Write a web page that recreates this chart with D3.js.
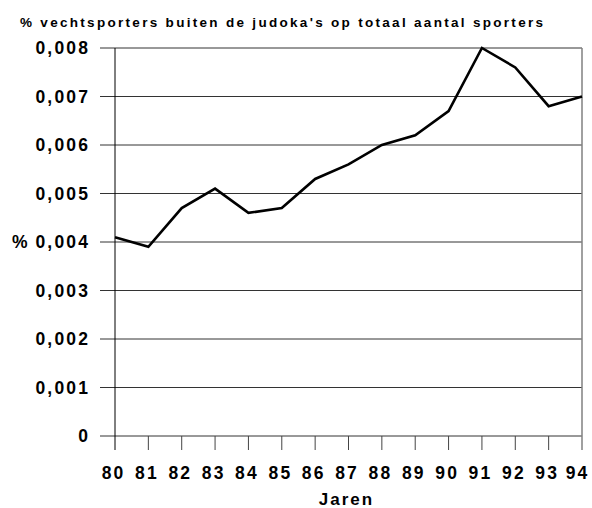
<!DOCTYPE html>
<html>
<head>
<meta charset="utf-8">
<script src="https://cdn.jsdelivr.net/npm/d3@7"></script>
<style>
  body { margin: 0; background: #fff; }
  svg text { font-family: "Liberation Sans", Arial, sans-serif; font-weight: bold; fill: #000; }
</style>
</head>
<body>
<svg id="chart" width="592" height="508"></svg>
<script>
// years on the x axis and share of martial-art athletes (excl. judoka's)
const years = [80, 81, 82, 83, 84, 85, 86, 87, 88, 89, 90, 91, 92, 93, 94];
const shares = [0.0041, 0.0039, 0.0047, 0.0051, 0.0046, 0.0047, 0.0053, 0.0056,
                0.0060, 0.0062, 0.0067, 0.0080, 0.0076, 0.0068, 0.0070];
const yTicks = [0, 0.001, 0.002, 0.003, 0.004, 0.005, 0.006, 0.007, 0.008];
const yTickLabels = ['0', '0,001', '0,002', '0,003', '0,004', '0,005', '0,006', '0,007', '0,008'];

const svg = d3.select('#chart');
const plotL = 115, plotR = 582, plotT = 48, plotB = 436;
const ls = 2.2; // the digits in the original are set quite wide

const x = d3.scaleLinear().domain([80, 94]).range([plotL, plotR]);
const y = d3.scaleLinear().domain([0, 0.008]).range([plotB, plotT]);

// horizontal gridlines with a short stub left of the axis
svg.append('g').selectAll('line').data(yTicks).join('line')
  .attr('x1', plotL - 15).attr('x2', plotR)
  .attr('y1', d => y(d)).attr('y2', d => y(d))
  .attr('stroke', '#333').attr('stroke-width', 1);

svg.append('g').selectAll('text').data(yTicks).join('text')
  .attr('x', 88 + ls).attr('y', d => y(d) + 6)
  .attr('text-anchor', 'end').style('font-size', '17.5px').style('letter-spacing', ls + 'px')
  .text((d, i) => yTickLabels[i]);

// left axis and right frame
svg.append('line').attr('x1', plotL).attr('x2', plotL).attr('y1', plotT).attr('y2', plotB + 14)
  .attr('stroke', '#000').attr('stroke-width', 1);
svg.append('line').attr('x1', plotR).attr('x2', plotR).attr('y1', plotT).attr('y2', plotB + 14)
  .attr('stroke', '#808080').attr('stroke-width', 1.5);

// x ticks
svg.append('g').selectAll('line').data(years.slice(1, -1)).join('line')
  .attr('x1', d => x(d)).attr('x2', d => x(d))
  .attr('y1', plotB).attr('y2', plotB + 14)
  .attr('stroke', '#444').attr('stroke-width', 1);

// year labels sit a touch left of their ticks; the last one is pulled in to stay on the page
svg.append('g').selectAll('text').data(years).join('text')
  .attr('x', d => Math.min(x(d) - 2.5, 576.5)).attr('y', 479)
  .attr('dx', '0 ' + ls)
  .attr('text-anchor', 'middle').style('font-size', '17.5px')
  .text(d => d);

// the series
const line = d3.line().x((d, i) => x(years[i])).y(d => y(d));
svg.append('path').datum(shares)
  .attr('d', line).attr('fill', 'none')
  .attr('stroke', '#000').attr('stroke-width', 2.6).attr('stroke-linejoin', 'miter');

// titles
svg.append('text').attr('x', 20).attr('y', 27)
  .style('font-size', '13.5px').style('letter-spacing', '2.3px')
  .text("% vechtsporters buiten de judoka's op totaal aantal sporters");
svg.append('text').attr('x', 12).attr('y', y(0.004) + 6)
  .style('font-size', '17.5px').text('%');
svg.append('text').attr('x', (plotL + plotR) / 2 - 2).attr('y', 505)
  .attr('text-anchor', 'middle').style('font-size', '17px').style('letter-spacing', '2px')
  .text('Jaren');
</script>
</body>
</html>
